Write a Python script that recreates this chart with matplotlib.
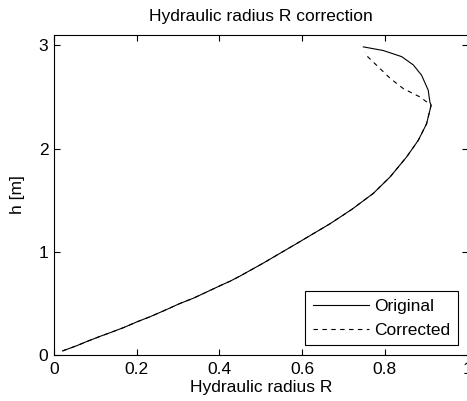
import matplotlib
matplotlib.use("Agg")
import matplotlib.pyplot as plt

plt.rcParams["font.family"] = ["Liberation Sans", "DejaVu Sans"]

# Original curve (R, h)
R_orig = [0.021, 0.055, 0.079, 0.111, 0.135, 0.168, 0.200, 0.232, 0.272, 0.305,
          0.337, 0.369, 0.393, 0.409, 0.426, 0.450, 0.506, 0.587, 0.667, 0.720,
          0.772, 0.813, 0.853, 0.881, 0.901, 0.909, 0.912, 0.909, 0.905,
          0.889, 0.869, 0.841, 0.796, 0.748]
h_orig = [0.04, 0.09, 0.13, 0.18, 0.215, 0.265, 0.32, 0.37, 0.44, 0.50,
          0.55, 0.61, 0.655, 0.685, 0.715, 0.765, 0.89, 1.08, 1.27, 1.41,
          1.565, 1.726, 1.92, 2.08, 2.24, 2.37, 2.42, 2.45, 2.565,
          2.71, 2.81, 2.89, 2.95, 2.985]

# Corrected curve: same as original up to ~2.42, then cuts back towards the top
N_SHARED = 27
R_corr = R_orig[:N_SHARED] + [0.885, 0.845, 0.813, 0.756, 0.752]
h_corr = h_orig[:N_SHARED] + [2.50, 2.58, 2.68, 2.90, 2.93]

fig = plt.figure(figsize=(4.67, 4.01), dpi=100)
ax = fig.add_axes([54 / 467, 46 / 401, 413.5 / 467, 320 / 401])

ax.plot(R_corr, h_corr, color="black", linewidth=0.8, linestyle=(0, (4, 4)),
        label="Corrected")
ax.plot(R_orig, h_orig, color="black", linewidth=0.8, label="Original")

ax.set_xlim(0, 1)
ax.set_ylim(0, 3.1)
ax.set_xticks([0, 0.2, 0.4, 0.6, 0.8, 1])
ax.set_xticklabels(["0", "0.2", "0.4", "0.6", "0.8", "1"])
ax.set_yticks([0, 1, 2, 3])
ax.tick_params(direction="in", top=True, right=True, length=4, width=0.8,
               labelsize=12.5)
ax.tick_params(axis="x", pad=5)
ax.tick_params(axis="y", pad=4)
for s in ax.spines.values():
    s.set_linewidth(0.8)

ax.set_title("Hydraulic radius R correction", fontsize=12.5, pad=10)
ax.set_xlabel("Hydraulic radius R", fontsize=12.5, labelpad=2)
ax.set_ylabel("h [m]", fontsize=12.5, labelpad=10)

handles, labels = ax.get_legend_handles_labels()
leg = ax.legend(handles[::-1], labels[::-1], loc="lower right", fontsize=12.5,
                fancybox=False, framealpha=1, edgecolor="black",
                handlelength=3.2, handletextpad=0.3, borderaxespad=0.55,
                labelspacing=0.5, borderpad=0.45)
leg.get_frame().set_linewidth(0.8)

fig.savefig("out.png", dpi=100)
